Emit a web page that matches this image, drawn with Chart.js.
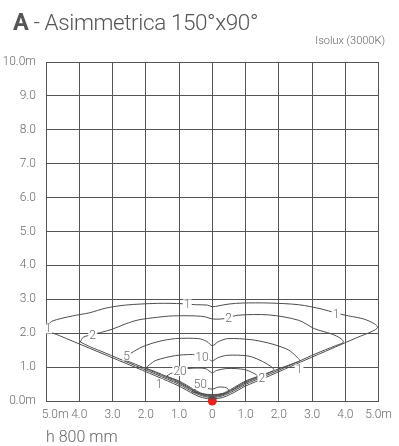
<!DOCTYPE html>
<html>
<head>
<meta charset="utf-8">
<script src="https://cdn.jsdelivr.net/npm/chart.js@4.4.1/dist/chart.umd.min.js"></script>
<style>
  html, body { margin: 0; padding: 0; background: #fff; }
  #wrap { position: relative; width: 399px; height: 446px; font-family: Roboto, 'Liberation Sans', sans-serif; color: #666; }
  #chart { position: absolute; left: 0; top: 0; }
  .txt { position: absolute; white-space: nowrap; font-weight: 300; }
  #title { left: 13px; top: 8px; font-size: 22.5px; letter-spacing: -0.4px; color: #555; }
  #title b { font-weight: 700; font-size: 23.5px; }
  #sub { right: 14px; top: 34px; font-size: 11px; }
  #foot { left: 46px; top: 427px; font-size: 16px; }
</style>
</head>
<body>
<div id="wrap">
  <canvas id="chart" width="399" height="446"></canvas>
  <div class="txt" id="title"><b>A</b> - Asimmetrica 150°x90°</div>
  <div class="txt" id="sub">Isolux (3000K)</div>
  <div class="txt" id="foot">h 800 mm</div>
</div>
<script>
/* ── axis ticks ── */
const xTickLabels = ['\u2002\u2002\u20025.0m', '4.0', '3.0', '2.0', '1.0', '0', '1.0', '2.0', '3.0', '4.0', '5.0m'];
const yTickLabels = ['0.0m', '1.0', '2.0', '3.0', '4.0', '5.0', '6.0', '7.0', '8.0', '9.0', '10.0m'];

/* ── isolux curves [x m, y m], closed loops ── */
const iso1 = [
  [-4.95, 2.2], [-4.83, 2.35], [-4.2, 2.51], [-3.7, 2.6], [-3.2, 2.74], [-2.6, 2.83], [-1.65, 2.88],
  [-0.9, 2.87], [-0.5, 2.84], [-0.15, 2.83], [0, 2.78], [0.2, 2.81], [0.5, 2.86], [0.9, 2.89],
  [1.7, 2.89], [2.6, 2.84], [3.3, 2.71], [3.7, 2.6], [4.1, 2.51], [4.55, 2.42], [4.87, 2.28],
  [4.97, 2.17], [4.82, 2.06], [4.35, 1.87], [3.6, 1.55], [2.8, 1.21], [2.2, 0.95], [1.6, 0.69],
  [1.0, 0.44], [0.55, 0.2], [0.3, 0.1], [0, 0.06], [-0.3, 0.1], [-0.55, 0.2], [-1.0, 0.44],
  [-1.7, 0.74], [-2.5, 1.07], [-3.7, 1.56], [-4.6, 1.93], [-4.9, 2.06], [-4.95, 2.2]
];
const iso2 = [
  [-3.97, 1.74], [-3.88, 1.88], [-3.6, 1.96], [-3.36, 2.02], [-3.0, 2.12], [-2.62, 2.27], [-2.23, 2.39],
  [-1.65, 2.47], [-1.2, 2.51], [-0.5, 2.51], [-0.2, 2.48], [0, 2.42], [0.28, 2.42], [0.5, 2.46],
  [0.77, 2.53], [1.7, 2.54], [2.6, 2.38], [3.08, 2.13], [3.58, 1.98], [3.87, 1.84], [3.94, 1.73],
  [3.7, 1.63], [3.1, 1.39], [2.6, 1.17], [2.0, 0.91], [1.5, 0.7], [1.0, 0.49], [0.55, 0.25],
  [0.3, 0.15], [0, 0.1], [-0.3, 0.15], [-0.55, 0.25], [-1.0, 0.49], [-1.7, 0.79], [-2.5, 1.12],
  [-3.2, 1.41], [-3.7, 1.61], [-3.97, 1.74]
];
const iso5 = [
  [-2.72, 1.22], [-2.62, 1.31], [-2.45, 1.41], [-2.1, 1.6], [-1.6, 1.76], [-1.1, 1.84], [-0.41, 1.84],
  [-0.17, 1.76], [0, 1.63], [0.18, 1.75], [0.47, 1.84], [1.16, 1.81], [1.65, 1.72], [2.0, 1.62],
  [2.3, 1.5], [2.52, 1.32], [2.63, 1.19], [2.5, 1.13], [2.0, 0.95], [1.5, 0.74], [1.0, 0.53],
  [0.55, 0.29], [0.3, 0.18], [0, 0.13], [-0.3, 0.18], [-0.55, 0.29], [-1.0, 0.53], [-1.7, 0.83],
  [-2.5, 1.16], [-2.72, 1.22]
];
const iso10 = [
  [-2.0, 0.97], [-1.9, 1.06], [-1.69, 1.2], [-1.1, 1.34], [-0.6, 1.37], [-0.3, 1.33], [-0.07, 1.21],
  [0, 1.18], [0.18, 1.28], [0.47, 1.35], [1.06, 1.33], [1.35, 1.24], [1.65, 1.09], [1.85, 0.94],
  [1.8, 0.88], [1.5, 0.77], [1.0, 0.56], [0.55, 0.31], [0.3, 0.2], [0, 0.15], [-0.3, 0.2],
  [-0.55, 0.31], [-1.0, 0.56], [-1.7, 0.86], [-2.0, 0.97]
];
const iso20 = [
  [-1.38, 0.73], [-1.25, 0.81], [-1.05, 0.88], [-0.7, 0.96], [-0.22, 0.96], [-0.07, 0.87], [0, 0.83],
  [0.13, 0.9], [0.47, 0.96], [0.96, 0.93], [1.2, 0.84], [1.36, 0.74], [1.3, 0.7], [1.0, 0.59],
  [0.55, 0.34], [0.3, 0.22], [0, 0.17], [-0.3, 0.22], [-0.55, 0.34], [-1.0, 0.59], [-1.38, 0.73]
];
const iso50 = [
  [-0.62, 0.27], [-0.5, 0.36], [-0.36, 0.42], [-0.17, 0.38], [0, 0.35], [0.18, 0.41], [0.42, 0.39],
  [0.5, 0.3], [0.45, 0.24], [0.3, 0.21], [0, 0.19], [-0.3, 0.21], [-0.62, 0.27]
];

/* ── curve labels ── */
const labelText = ['1', '1', '1', '1', '1', '2', '2', '2', '5', '10', '20', '50'];
const labelX    = [-4.94, -0.75, 3.72, 2.61, -1.6, -3.6, 0.49, 1.49, -2.58, -0.31, -0.97, -0.36];
const labelY    = [2.14, 2.85, 2.58, 0.93, 0.5, 1.96, 2.46, 0.67, 1.34, 1.31, 0.88, 0.5];

const contours = [iso1, iso2, iso5, iso10, iso20, iso50];
const LINE = '#4d4d4d';
const GRID = '#555';
const TXT = '#6b6b6b';
const FONT = "Roboto, 'Liberation Sans', sans-serif";

const isoLabels = {
  id: 'isoLabels',
  afterDatasetsDraw(chart) {
    const { ctx, scales: { x, y } } = chart;
    ctx.save();
    ctx.font = `300 12px ${FONT}`;
    ctx.textAlign = 'center';
    ctx.textBaseline = 'middle';
    labelText.forEach((t, i) => {
      const px = x.getPixelForValue(labelX[i]);
      const py = y.getPixelForValue(labelY[i]);
      const w = ctx.measureText(t).width + 2;
      ctx.fillStyle = '#fff';
      ctx.fillRect(px - w / 2, py - 5, w, 10);
      ctx.fillStyle = TXT;
      ctx.fillText(t, px, py + 1);
    });
    ctx.restore();
  }
};

const datasets = contours.map(pts => ({
  data: pts.map(([x, y]) => ({ x, y })),
  showLine: true,
  pointRadius: 0,
  borderColor: LINE,
  borderWidth: 1,
  tension: 0.3,
  fill: false
}));

datasets.push({
  data: [{ x: 0, y: 0 }],
  pointRadius: 4.5,
  backgroundColor: '#e8231f',
  borderWidth: 0,
  clip: false
});

new Chart(document.getElementById('chart'), {
  type: 'scatter',
  data: { datasets },
  plugins: [isoLabels],
  options: {
    responsive: false,
    animation: false,
    devicePixelRatio: 1,
    layout: { padding: { top: 62, right: 14, bottom: 0, left: 0 } },
    plugins: { legend: { display: false }, tooltip: { enabled: false } },
    scales: {
      x: {
        type: 'linear', min: -5, max: 5,
        afterFit: s => { s.height = 45; },
        grid: { color: GRID, drawTicks: false },
        border: { color: GRID },
        ticks: {
          stepSize: 1, padding: 7, maxRotation: 0, autoSkip: false,
          color: TXT, font: { family: FONT, size: 12, weight: '300' },
          callback: v => xTickLabels[Math.round(v) + 5]
        }
      },
      y: {
        type: 'linear', min: 0, max: 10,
        afterFit: s => { s.width = 46; },
        grid: { color: GRID, drawTicks: false },
        border: { color: GRID },
        ticks: {
          stepSize: 1, padding: 10,
          color: TXT, font: { family: FONT, size: 12, weight: '300' },
          callback: v => yTickLabels[Math.round(v)]
        }
      }
    }
  }
});
</script>
</body>
</html>
